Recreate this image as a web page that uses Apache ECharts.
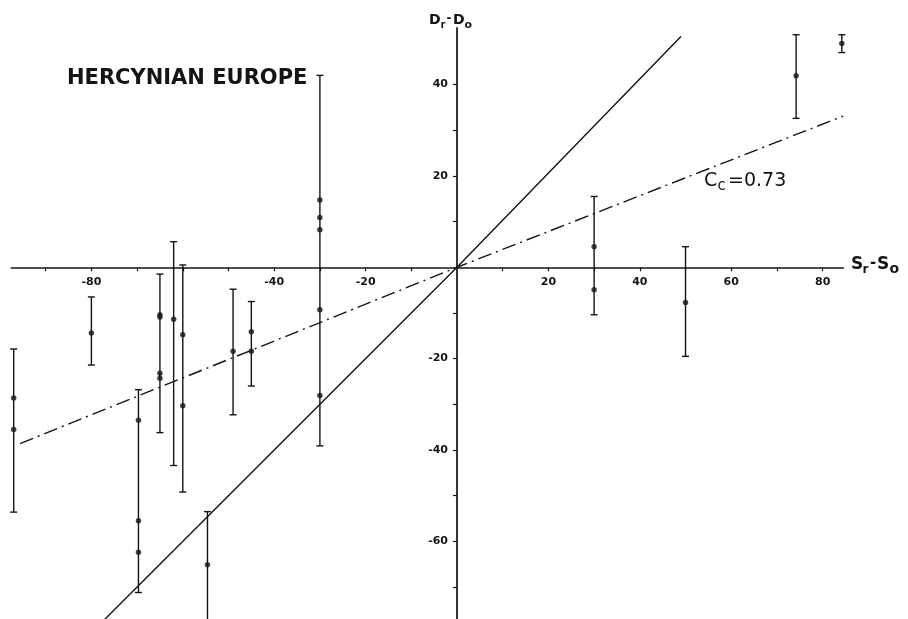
<!DOCTYPE html>
<html>
<head>
<meta charset="utf-8">
<script src="https://cdn.jsdelivr.net/npm/echarts@6/dist/echarts.min.js"></script>
<style>
  html, body { margin: 0; padding: 0; background: #fff; }
  #chart { width: 908px; height: 619px; }
</style>
</head>
<body>
<div id="chart"></div>
<script>
// Error-bar columns: position on the S axis, lower and upper ends on the D axis
const barX    = [-97, -80, -69.7, -65, -62, -60, -54.6, -49, -45, -30, 30, 50, 74.2, 84.2];
const barLow  = [-53.6, -21.4, -71.2, -36.2, -43.4, -49.2, -90, -32.3, -26.0, -39.1, -10.4, -19.5, 32.6, 47.0];
const barHigh = [-17.9, -6.5, -26.8, -1.5, 5.6, 0.5, -53.5, -4.8, -7.5, 42, 15.5, 4.5, 50.9, 50.9];

// Individual measurements plotted on the bars
const pointX = [-97, -97, -80, -69.7, -69.7, -69.7, -65, -65, -65, -65, -62, -60, -60, -54.6,
                -49, -45, -45, -30, -30, -30, -30, -30, 30, 30, 50, 74.2, 84.2];
const pointY = [-28.6, -35.5, -14.4, -33.5, -55.5, -62.4, -10.4, -10.9, -23.2, -24.3, -11.4, -14.8, -30.3, -65.1,
                -18.4, -14.1, -18.4, 14.7, 10.9, 8.2, -9.3, -28.1, 4.5, -4.9, -7.7, 41.9, 49.0];

// Reference line (slope 1) and correlation line (Cc = 0.73)
const unitX = [-78, 0, 49];
const unitY = [-78, 0, 50.5];
const corrX = [-95.6, 0, 84.5];
const corrY = [-38.6, 0, 33.1];

// Axis ranges, ticks and labelled values
const xMin = -97.5, xMax = 84.5;
const yMin = -77, yMax = 52.4;
const xTicks  = [-90, -80, -70, -60, -50, -40, -30, -20, -10, 10, 20, 30, 40, 50, 60, 70, 80];
const xLabels = [-80, -40, -20, 20, 40, 60, 80];
const yTicks  = [-70, -60, -50, -40, -30, -20, -10, 10, 20, 30, 40];
const yLabels = [-60, -40, -20, 20, 40];

const INK = '#141414';
const LABEL_FONT = 'DejaVu Sans';

const W = 908, H = 619;
const GRID = { left: 11.4, right: 64.8, top: 27.9, bottom: 0 };
const gridW = W - GRID.left - GRID.right;
const gridH = H - GRID.top - GRID.bottom;
// shift both axes from the grid edges onto the zero lines
const xAxisOffset = -((0 - yMin) / (yMax - yMin)) * gridH;
const yAxisOffset = -((0 - xMin) / (xMax - xMin)) * gridW;

const chart = echarts.init(document.getElementById('chart'), null, { renderer: 'canvas' });

const barData = barX.map((x, i) => [x, barLow[i], barHigh[i]]);
const pointData = pointX.map((x, i) => [x, pointY[i]]);

function axisCommon(ticks, labels, margin) {
  return {
    type: 'value',
    splitLine: { show: false },
    axisLine: { show: true, onZero: false, lineStyle: { color: INK, width: 1.7 } },
    axisTick: { show: true, customValues: ticks, length: 4, lineStyle: { color: INK, width: 1.2 } },
    axisLabel: {
      show: true,
      customValues: labels,
      margin: margin,
      color: INK,
      fontFamily: LABEL_FONT,
      fontWeight: 'bold',
      fontSize: 11,
      formatter: v => String(v)
    }
  };
}

const option = {
  backgroundColor: '#ffffff',
  animation: false,
  grid: Object.assign({ containLabel: false, outerBoundsMode: 'none' }, GRID),
  xAxis: Object.assign(axisCommon(xTicks, xLabels, 9),
    { min: xMin, max: xMax, position: 'bottom', offset: xAxisOffset }),
  yAxis: Object.assign(axisCommon(yTicks, yLabels, 9),
    { min: yMin, max: yMax, position: 'left', offset: yAxisOffset }),
  series: [
    {
      type: 'line',
      data: unitX.map((x, i) => [x, unitY[i]]),
      showSymbol: false,
      silent: true,
      lineStyle: { color: INK, width: 1.4, type: 'solid' },
      z: 2
    },
    {
      type: 'line',
      data: corrX.map((x, i) => [x, corrY[i]]),
      showSymbol: false,
      silent: true,
      lineStyle: { color: INK, width: 1.4, type: [14, 5, 2, 5] },
      z: 2
    },
    {
      type: 'custom',
      data: barData,
      encode: { x: 0, y: [1, 2] },
      silent: true,
      z: 3,
      renderItem: function (params, api) {
        const x = api.value(0);
        const lo = api.coord([x, api.value(1)]);
        const hi = api.coord([x, api.value(2)]);
        const w = 3.5;
        const st = { stroke: INK, lineWidth: 1.4 };
        return {
          type: 'group',
          children: [
            { type: 'line', shape: { x1: lo[0], y1: lo[1], x2: hi[0], y2: hi[1] }, style: st },
            { type: 'line', shape: { x1: hi[0] - w, y1: hi[1], x2: hi[0] + w, y2: hi[1] }, style: st },
            { type: 'line', shape: { x1: lo[0] - w, y1: lo[1], x2: lo[0] + w, y2: lo[1] }, style: st }
          ]
        };
      }
    },
    {
      type: 'scatter',
      data: pointData,
      symbol: 'circle',
      symbolSize: 5.5,
      silent: true,
      itemStyle: { color: INK },
      z: 4
    }
  ],
  graphic: [
    {
      type: 'text', left: 67, top: 68,
      style: { text: 'HERCYNIAN EUROPE', fill: INK, font: 'bold 21px "DejaVu Sans"' }
    },
    // vertical axis title: D_r - D_o
    { type: 'text', x: 429, y: 13, style: { text: 'D', fill: INK, font: 'bold 14px "DejaVu Sans"' } },
    { type: 'text', x: 440.5, y: 20, style: { text: 'r', fill: INK, font: 'bold 10px "DejaVu Sans"' } },
    { type: 'text', x: 446.5, y: 13, style: { text: '-', fill: INK, font: 'bold 12px "DejaVu Sans"' } },
    { type: 'text', x: 453, y: 13, style: { text: 'D', fill: INK, font: 'bold 14px "DejaVu Sans"' } },
    { type: 'text', x: 464.5, y: 19.5, style: { text: 'o', fill: INK, font: 'bold 11px "DejaVu Sans"' } },
    // horizontal axis title: S_r - S_o
    { type: 'text', x: 851, y: 256, style: { text: 'S', fill: INK, font: 'bold 17px "DejaVu Sans"' } },
    { type: 'text', x: 862.5, y: 264, style: { text: 'r', fill: INK, font: 'bold 12px "DejaVu Sans"' } },
    { type: 'text', x: 870, y: 256, style: { text: '-', fill: INK, font: 'bold 15px "DejaVu Sans"' } },
    { type: 'text', x: 877, y: 256, style: { text: 'S', fill: INK, font: 'bold 17px "DejaVu Sans"' } },
    { type: 'text', x: 889.5, y: 262, style: { text: 'o', fill: INK, font: 'bold 14px "DejaVu Sans"' } },
    // correlation label: C_c = 0.73
    { type: 'text', x: 704, y: 172, style: { text: 'C', fill: INK, font: '19px "DejaVu Sans"' } },
    { type: 'text', x: 717.5, y: 179, style: { text: 'c', fill: INK, font: '15px "DejaVu Sans"' } },
    { type: 'text', x: 728, y: 172, style: { text: '=0.73', fill: INK, font: '19px "DejaVu Sans"' } }
  ]
};

chart.setOption(option);
</script>
</body>
</html>
